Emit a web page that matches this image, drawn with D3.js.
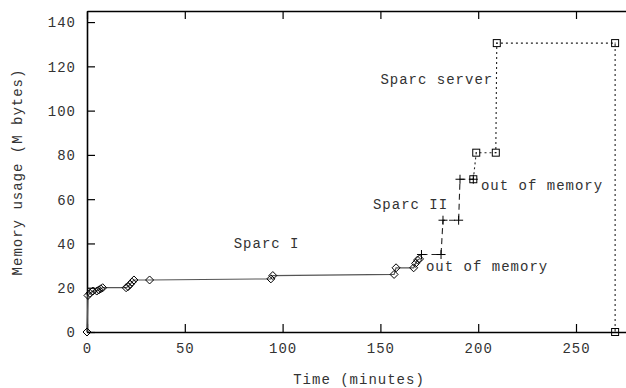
<!DOCTYPE html>
<html>
<head>
<meta charset="utf-8">
<script src="https://cdn.jsdelivr.net/npm/d3@7"></script>
<style>
  body { margin: 0; background: #fff; }
  svg text { font-family: "Liberation Mono", monospace; font-size: 14px; fill: #333; letter-spacing: 1px; }
</style>
</head>
<body>
<div id="chart"></div>
<script>
'use strict'

// Sparc I (diamonds, solid)
const sparc1Time = [0, 0.5, 1.5, 3, 5, 6, 7, 8, 20, 21, 22, 23, 24, 32, 94, 95, 157, 158, 167, 168, 169, 170];
const sparc1Mem  = [0, 16.5, 17.5, 18.5, 18.5, 19, 19.5, 20, 20, 20.5, 21.5, 22.5, 23.5, 23.5, 24, 25.5, 26, 29, 29, 31, 32.5, 33];

// Sparc II (plus, dashed)
const sparc2Time = [171, 181, 182, 190, 190.7, 197.5];
const sparc2Mem  = [35, 35, 50.5, 50.5, 69, 69];

// Sparc server (squares, dotted)
const serverTime = [197.5, 199, 209, 209.5, 270, 270];
const serverMem  = [69, 81, 81, 130.5, 130.5, 0];

const xTicks = [0, 50, 100, 150, 200, 250];
const yTicks = [0, 20, 40, 60, 80, 100, 120, 140];

// text labels, placed in data coordinates
const labelText = ["Sparc I", "Sparc II", "Sparc server", "out of memory", "out of memory"];
const labelTime = [75, 146.2, 150, 201.4, 173.3];
const labelMem  = [38, 55.5, 111.8, 64.1, 27.5];

const W = 626, H = 388;
const svg = d3.select("#chart").append("svg")
    .attr("width", W)
    .attr("height", H);

const x = d3.scaleLinear().domain([0, 280]).range([87, 87 + 280 * 1.956]);
const y = d3.scaleLinear().domain([0, 145]).range([332, 11]);

// axes
const axisB = svg.append("g")
    .attr("transform", `translate(0, ${y(0)})`)
    .call(d3.axisBottom(x).tickValues(xTicks).tickSizeInner(-8).tickSizeOuter(0).tickFormat(d3.format("d")));
axisB.selectAll("text").attr("y", 21).attr("dy", 0);

svg.append("g")
    .attr("transform", `translate(0, ${y(145)})`)
    .call(d3.axisTop(x).tickValues(xTicks).tickSizeInner(-8).tickSizeOuter(0).tickFormat(""));

const axisL = svg.append("g")
    .attr("transform", `translate(${x(0)}, 0)`)
    .call(d3.axisLeft(y).tickValues(yTicks).tickSizeInner(-8).tickSizeOuter(0).tickFormat(d3.format("d")));
axisL.selectAll("text").attr("x", -11).attr("dy", "0.35em");

svg.selectAll(".domain").attr("stroke", "#000").attr("stroke-width", 1.6);
svg.selectAll(".tick line").attr("stroke", "#000").attr("stroke-width", 1.2);
svg.selectAll(".tick text").attr("font-family", null).attr("font-size", null).style("fill", "#333");

// axis titles
svg.append("text")
    .attr("x", 359)
    .attr("y", 384)
    .attr("text-anchor", "middle")
    .text("Time (minutes)");

svg.append("text")
    .attr("transform", `translate(22, ${172}) rotate(-90)`)
    .attr("text-anchor", "middle")
    .text("Memory usage (M bytes)");

// series
const toPts = (ts, ms) => ts.map((t, i) => [t, ms[i]]);
const line = d3.line().x(d => x(d[0])).y(d => y(d[1]));

const s1 = toPts(sparc1Time, sparc1Mem);
const s2 = toPts(sparc2Time, sparc2Mem);
const s3 = toPts(serverTime, serverMem);

svg.append("path").datum(s1)
    .attr("d", line).attr("fill", "none")
    .attr("stroke", "#555").attr("stroke-width", 1.2);

svg.append("path").datum(s2)
    .attr("d", line).attr("fill", "none")
    .attr("stroke", "#222").attr("stroke-width", 1.1)
    .attr("stroke-dasharray", "6,4");

svg.append("path").datum(s3)
    .attr("d", line).attr("fill", "none")
    .attr("stroke", "#222").attr("stroke-width", 1.1)
    .attr("stroke-dasharray", "2,3");

// markers
svg.append("g").selectAll("path")
    .data(s1).enter().append("path")
    .attr("d", d => {
        const cx = x(d[0]), cy = y(d[1]);
        return `M${cx},${cy - 4}L${cx + 4},${cy}L${cx},${cy + 4}L${cx - 4},${cy}Z`;
    })
    .attr("fill", "none").attr("stroke", "#000").attr("stroke-width", 1);

svg.append("g").selectAll("path")
    .data(s2).enter().append("path")
    .attr("d", d => {
        const cx = x(d[0]), cy = y(d[1]);
        return `M${cx - 4.5},${cy}H${cx + 4.5}M${cx},${cy - 4.5}V${cy + 4.5}`;
    })
    .attr("fill", "none").attr("stroke", "#000").attr("stroke-width", 1);

const sq = svg.append("g").selectAll("g")
    .data(s3).enter().append("g");
sq.append("rect")
    .attr("x", d => x(d[0]) - 3.5)
    .attr("y", d => y(d[1]) - 3.5)
    .attr("width", 7).attr("height", 7)
    .attr("fill", "none").attr("stroke", "#000").attr("stroke-width", 1);
sq.append("rect")
    .attr("x", d => x(d[0]) - 0.5)
    .attr("y", d => y(d[1]) - 0.5)
    .attr("width", 1).attr("height", 1)
    .attr("fill", "#000");

// labels
svg.append("g").selectAll("text")
    .data(labelText).enter().append("text")
    .attr("x", (d, i) => x(labelTime[i]))
    .attr("y", (d, i) => y(labelMem[i]))
    .text(d => d);
</script>
</body>
</html>
